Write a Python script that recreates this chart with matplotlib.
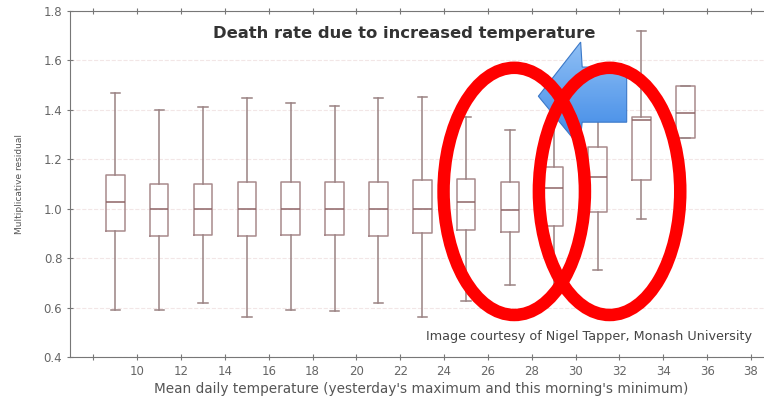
import numpy as np
import matplotlib
matplotlib.use('Agg')
import matplotlib.pyplot as plt
from matplotlib.patches import Ellipse, Polygon
from matplotlib.colors import LinearSegmentedColormap

# box summary per temperature bin
temps = [9, 11, 13, 15, 17, 19, 21, 23, 25, 27, 29, 31, 33, 35]
whishi = [1.467, 1.398, 1.41, 1.447, 1.427, 1.415, 1.447, 1.45, 1.37, 1.32, 1.47, 1.52, 1.72, 1.495]
q3 = [1.135, 1.10, 1.10, 1.11, 1.11, 1.11, 1.11, 1.118, 1.122, 1.11, 1.167, 1.248, 1.37, 1.495]
med = [1.029, 0.997, 1.0, 0.997, 1.0, 1.0, 0.997, 0.997, 1.029, 0.993, 1.085, 1.127, 1.36, 1.387]
q1 = [0.911, 0.891, 0.895, 0.89, 0.895, 0.895, 0.891, 0.9, 0.915, 0.907, 0.93, 0.985, 1.118, 1.285]
whislo = [0.59, 0.59, 0.62, 0.56, 0.59, 0.587, 0.619, 0.562, 0.627, 0.69, 0.65, 0.75, 0.96, 1.285]

xticks = [8, 10, 12, 14, 16, 18, 20, 22, 24, 26, 28, 30, 32, 34, 36, 38]
xticklabels = [''] + [str(t) for t in xticks[1:]]
yticks = [0.4, 0.6, 0.8, 1.0, 1.2, 1.4, 1.6, 1.8]

fig = plt.figure(figsize=(7.64, 4.01), dpi=100)
ax = fig.add_axes([0.0916, 0.1097, 0.92, 0.863])

stats = []
for i in range(len(temps)):
  stats.append({'whislo': whislo[i], 'q1': q1[i], 'med': med[i],
                'q3': q3[i], 'whishi': whishi[i], 'fliers': []})

edge = '#a88a8c'
ax.bxp(stats, positions=temps, widths=0.85, showfliers=False,
       boxprops=dict(color=edge, linewidth=1.1),
       whiskerprops=dict(color='#9a8283', linewidth=1.1),
       capprops=dict(color='#9a8283', linewidth=1.1),
       medianprops=dict(color='#8e6466', linewidth=1.1),
       manage_ticks=False)

ax.set_xlim(6.93, 39.0)
ax.set_ylim(0.4, 1.8)
ax.set_xticks(xticks)
ax.set_xticklabels(xticklabels)
ax.set_yticks(yticks)
ax.set_yticklabels(['%.1f' % v for v in yticks])
ax.yaxis.grid(True, color='#f2e6e6', linewidth=0.8, linestyle='--')
ax.set_axisbelow(True)

for s in ['left', 'bottom', 'top']:
  ax.spines[s].set_color('#777777')
ax.spines['right'].set_visible(False)
ax.tick_params(axis='x', direction='inout', length=4, color='#777777',
               labelcolor='#666666', labelsize=8.5, top=True)
ax.tick_params(axis='y', direction='inout', length=4, color='#777777',
               labelcolor='#666666', labelsize=8.5)

ax.set_xlabel("Mean daily temperature (yesterday's maximum and this morning's minimum)",
              fontsize=9.8, color='#555555', labelpad=3)
ax.set_ylabel('Multiplicative residual', fontsize=6.5, color='#555555', labelpad=14)

ax.text(22.16, 1.707, 'Death rate due to increased temperature', ha='center',
        va='center', fontsize=11.8, fontweight='bold', family='DejaVu Sans',
        color='#333333')
ax.text(38.07, 0.481, 'Image courtesy of Nigel Tapper, Monash University',
        ha='right', va='center', fontsize=9.2, color='#444444')

# blue block arrow with a vertical gradient
arrow_pts = [(28.3, 1.455), (30.23, 1.674), (30.3, 1.573), (32.33, 1.573),
             (32.33, 1.35), (30.3, 1.35), (30.18, 1.252)]
arrow = Polygon(arrow_pts, closed=True, facecolor='none',
                edgecolor='#3b78c8', linewidth=0.8, zorder=6)
ax.add_patch(arrow)
cmap = LinearSegmentedColormap.from_list('bl', ['#3d88e6', '#90c0f5'])
grad = np.linspace(0, 1, 100).reshape(-1, 1)
img = ax.imshow(grad, extent=(28.3, 32.33, 1.252, 1.674), origin='lower',
                cmap=cmap, aspect='auto', zorder=5)
img.set_clip_path(arrow)

# red ellipses
for cx in [27.2, 31.55]:
  ax.add_patch(Ellipse((cx, 1.07), 6.45, 1.0, facecolor='none',
                       edgecolor='#ff0000', linewidth=9, zorder=7))

ax.set_xlim(6.93, 39.0)
ax.set_ylim(0.4, 1.8)

fig.savefig('out.png', dpi=100)
